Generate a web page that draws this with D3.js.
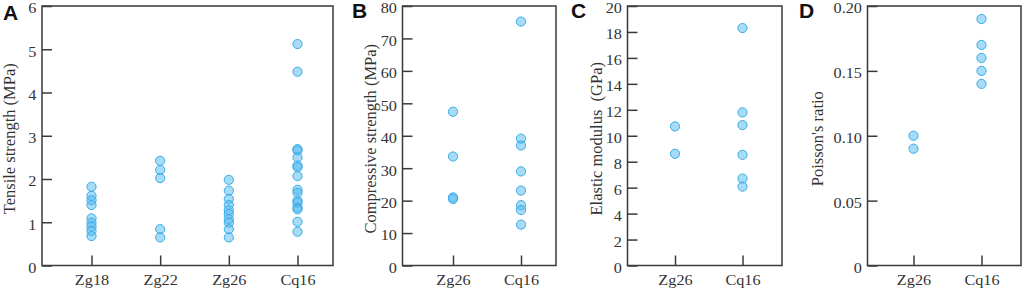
<!DOCTYPE html>
<html>
<head>
<meta charset="utf-8">
<script src="https://cdn.jsdelivr.net/npm/d3@7"></script>
<style>
  body { margin: 0; background: #fff; }
</style>
</head>
<body>
<div id="container"></div>
<script>
// --- data ---
let tensileCats = ["Zg18", "Zg22", "Zg26", "Cq16"];
let tensileZg18 = [1.82, 1.61, 1.51, 1.40, 1.09, 0.99, 0.90, 0.80, 0.68];
let tensileZg22 = [2.42, 2.21, 2.02, 0.84, 0.65];
let tensileZg26 = [1.98, 1.73, 1.54, 1.40, 1.28, 1.19, 1.07, 0.99, 0.84, 0.65];
let tensileCq16 = [5.12, 4.48, 2.69, 2.66, 2.50, 2.31, 2.27, 2.07, 1.75, 1.68, 1.50, 1.45, 1.34, 1.30, 1.01, 0.78];
let tensileTicks = [0, 1, 2, 3, 4, 5, 6];

let compCats = ["Zg26", "Cq16"];
let compZg26 = [47.4, 33.6, 21.0, 20.5];
let compCq16 = [75.2, 39.1, 37.0, 29.0, 23.1, 18.6, 17.1, 12.6];
let compTicks = [0, 10, 20, 30, 40, 50, 60, 70, 80];

let modCats = ["Zg26", "Cq16"];
let modZg26 = [10.72, 8.61];
let modCq16 = [18.3, 11.8, 10.82, 8.53, 6.70, 6.08];
let modTicks = [0, 2, 4, 6, 8, 10, 12, 14, 16, 18, 20];

let poisCats = ["Zg26", "Cq16"];
let poisZg26 = [0.10, 0.09];
let poisCq16 = [0.19, 0.17, 0.16, 0.15, 0.14];
let poisTicks = [0, 0.05, 0.10, 0.15, 0.20];

let w = 1024;
let h = 290;
let plotTop = 6;
let plotBottom = 265.5;
let serif = "Liberation Serif, Times New Roman, serif";

let svg = d3.select("#container")
  .append("svg")
  .attr("width", w)
  .attr("height", h)
  .style("background", "#fff");

let panels = [
  {letter: "A", lx: 3, ly: 20, left: 42, right: 333, xr: [91.5, 297.5],
   title: "Tensile strength (MPa)", tx: 15, cats: tensileCats,
   values: [tensileZg18, tensileZg22, tensileZg26, tensileCq16], ticks: tensileTicks, fmt: d3.format("d")},
  {letter: "B", lx: 352, ly: 18, left: 402.5, right: 556, xr: [453, 521],
   title: "Compressive strength (MPa)", tx: 376, cats: compCats,
   values: [compZg26, compCq16], ticks: compTicks, fmt: d3.format("d")},
  {letter: "C", lx: 571, ly: 18, left: 627.5, right: 782, xr: [675, 742.5],
   title: "Elastic modulus  (GPa)", tx: 602, cats: modCats,
   values: [modZg26, modCq16], ticks: modTicks, fmt: d3.format("d")},
  {letter: "D", lx: 799, ly: 18, left: 867.5, right: 1021, xr: [913.5, 981.5],
   title: "Poisson's ratio", tx: 823, cats: poisCats,
   values: [poisZg26, poisCq16], ticks: poisTicks,
   fmt: d => d === 0 ? "0" : d3.format(".2f")(d)}
];

panels.forEach(function(p) {
  let g = svg.append("g");

  let x = d3.scalePoint().domain(p.cats).range(p.xr);
  let y = d3.scaleLinear()
    .domain([0, p.ticks[p.ticks.length - 1]])
    .range([plotBottom, plotTop]);

  // y axis, ticks pointing inward
  let yAxis = g.append("g")
    .attr("transform", "translate(" + p.left + ",0)")
    .call(d3.axisLeft(y).tickValues(p.ticks).tickFormat(p.fmt).tickSize(-10).tickPadding(5));
  yAxis.select(".domain").remove();
  yAxis.selectAll(".tick text").attr("dy", "0.47em");

  let xAxis = g.append("g")
    .attr("transform", "translate(0," + plotBottom + ")")
    .call(d3.axisBottom(x).tickSize(-10).tickPadding(9));
  xAxis.select(".domain").remove();

  [yAxis, xAxis].forEach(function(a) {
    a.attr("font-family", serif).attr("font-size", 14.5);
    a.selectAll(".tick line").attr("stroke", "#3a3a3a").attr("stroke-width", 1.5);
    // the source figure is a little stretched sideways
    a.selectAll(".tick text").attr("fill", "#333").attr("transform", "scale(1.12,1)");
  });

  // frame
  g.append("rect")
    .attr("x", p.left)
    .attr("y", plotTop)
    .attr("width", p.right - p.left)
    .attr("height", plotBottom - plotTop)
    .attr("fill", "none")
    .attr("stroke", "#3a3a3a")
    .attr("stroke-width", 1.5);

  // points
  let pts = [];
  p.cats.forEach(function(c, i) {
    p.values[i].forEach(function(v) { pts.push({cat: c, v: v}); });
  });
  g.selectAll(".dot").data(pts).enter()
    .append("circle")
    .attr("class", "dot")
    .attr("cx", d => x(d.cat))
    .attr("cy", d => y(d.v))
    .attr("r", 4.6)
    .attr("fill", "#4fb8ee")
    .attr("fill-opacity", 0.5)
    .attr("stroke", "#38ade8")
    .attr("stroke-width", 1);

  // y title
  g.append("text")
    .attr("transform", "translate(" + p.tx + "," + ((plotTop + plotBottom) / 2 + 3) + ") rotate(-90)")
    .attr("text-anchor", "middle")
    .attr("fill", "#333")
    .attr("font-family", serif)
    .attr("font-size", 16.5)
    .style("white-space", "pre")
    .text(p.title);

  // panel letter
  g.append("text")
    .attr("x", p.lx)
    .attr("y", p.ly)
    .attr("fill", "#111")
    .attr("font-family", "Liberation Sans, Arial, sans-serif")
    .attr("font-weight", "bold")
    .attr("font-size", 21)
    .text(p.letter);
});
</script>
</body>
</html>
